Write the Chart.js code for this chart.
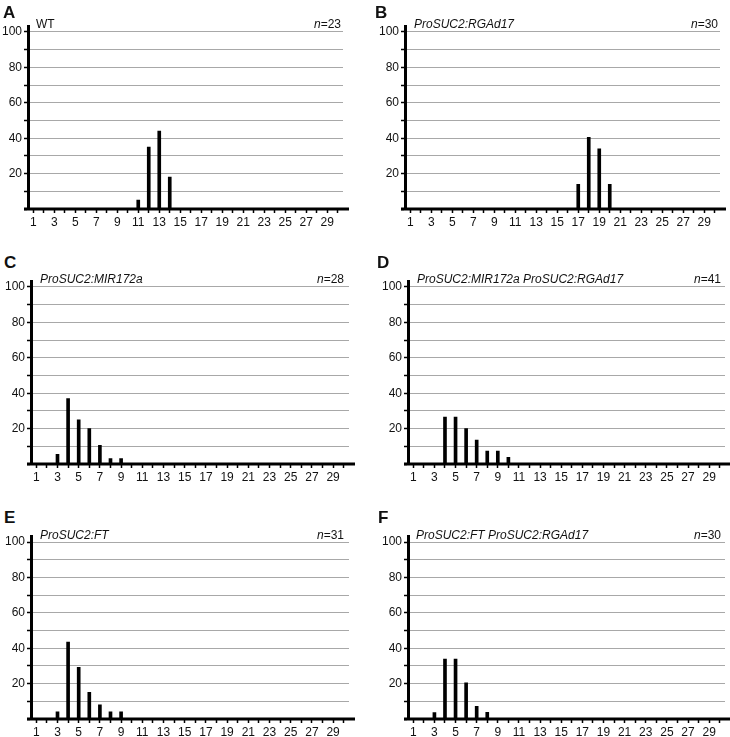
<!DOCTYPE html>
<html>
<head>
<meta charset="utf-8">
<script src="https://cdn.jsdelivr.net/npm/chart.js@4/dist/chart.umd.min.js"></script>
<style>
  html, body { margin: 0; padding: 0; background: #fff; }
  #wrap { position: relative; width: 730px; height: 737px; overflow: hidden; font-family: 'Liberation Sans', Arial, sans-serif; color: #111; }
  canvas { position: absolute; }
  .lett { position: absolute; font-weight: bold; font-size: 17px; line-height: 17px; color: #111; }
  .geno { position: absolute; font-size: 12px; line-height: 16px; white-space: nowrap; }
  .nlab { position: absolute; font-size: 12px; line-height: 16px; white-space: nowrap; text-align: right; }
</style>
</head>
<body>
<div id="wrap"></div>
<script>
// ---- data ----
const categories = [1,2,3,4,5,6,7,8,9,10,11,12,13,14,15,16,17,18,19,20,21,22,23,24,25,26,27,28,29,30];
const yTickLabels = [20, 40, 60, 80, 100];

const panelLetters = ['A', 'B', 'C', 'D', 'E', 'F'];
const genotypes = ['WT', 'ProSUC2:RGAd17', 'ProSUC2:MIR172a', 'ProSUC2:MIR172a ProSUC2:RGAd17', 'ProSUC2:FT', 'ProSUC2:FT ProSUC2:RGAd17'];
const nValues = [23, 30, 28, 41, 31, 30];

const valuesA = [0,0,0,0,0,0,0,0,0,0,5,35,44,18,0,0,0,0,0,0,0,0,0,0,0,0,0,0,0,0];
const valuesB = [0,0,0,0,0,0,0,0,0,0,0,0,0,0,0,0,14,40.5,34,14,0,0,0,0,0,0,0,0,0,0];
const valuesC = [0,0,5.5,37,25,20,10.5,3,3,0,0,0,0,0,0,0,0,0,0,0,0,0,0,0,0,0,0,0,0,0];
const valuesD = [0,0,0,26.5,26.5,20,13.5,7.3,7.3,3.8,0,0,0,0,0,0,0,0,0,0,0,0,0,0,0,0,0,0,0,0];
const valuesE = [0,0,4,43.5,29.2,15,8,4,4,0,0,0,0,0,0,0,0,0,0,0,0,0,0,0,0,0,0,0,0,0];
const valuesF = [0,0,3.6,33.8,33.8,20.5,7.2,3.7,0,0,0,0,0,0,0,0,0,0,0,0,0,0,0,0,0,0,0,0,0,0];
const seriesList = [valuesA, valuesB, valuesC, valuesD, valuesE, valuesF];

// ---- layout (pixel geometry of each panel) ----
const layout = [
  { x0: 28,  right: 343, y100: 32,  yb: 209, lx: 3,   ly: 4,   gx: 36,  gy: 24,  nr: 341 },
  { x0: 405, right: 720, y100: 32,  yb: 209, lx: 375, ly: 4,   gx: 414, gy: 24,  nr: 718 },
  { x0: 31,  right: 349, y100: 287, yb: 464, lx: 4,   ly: 254, gx: 40,  gy: 279, nr: 344 },
  { x0: 408, right: 725, y100: 287, yb: 464, lx: 377, ly: 254, gx: 417, gy: 279, nr: 721 },
  { x0: 31,  right: 349, y100: 542, yb: 719, lx: 4,   ly: 509, gx: 40,  gy: 535, nr: 344 },
  { x0: 408, right: 725, y100: 542, yb: 719, lx: 378, ly: 509, gx: 416, gy: 535, nr: 721 }
];

const FONT = "'Liberation Sans', Arial, sans-serif";
const Wy = 30, Hx = 24;
const wrap = document.getElementById('wrap');

const axisPlugin = {
  id: 'xAxisLine',
  afterDatasetsDraw(chart) {
    const { ctx, chartArea } = chart;
    const y = chart.scales.y.getPixelForValue(0);
    ctx.save();
    ctx.strokeStyle = '#000';
    ctx.lineWidth = 3;
    ctx.beginPath();
    ctx.moveTo(chartArea.left - 4, y);
    ctx.lineTo(chartArea.right + 6, y);
    ctx.stroke();
    ctx.restore();
  }
};

layout.forEach((p, k) => {
  const unit = (p.yb - p.y100) / 100;
  const yTop = p.yb - 103 * unit;
  const top = Math.floor(yTop - 9);
  const P = yTop - top;
  const left = p.x0 - Wy;
  const w = p.right - p.x0 + Wy + 10;
  const R = w - (p.right - p.x0 + Wy);
  const h = Math.round(P + (p.yb - yTop) + Hx);

  const c = document.createElement('canvas');
  c.width = w; c.height = h;
  c.style.left = left + 'px'; c.style.top = top + 'px';
  c.style.width = w + 'px'; c.style.height = h + 'px';
  wrap.appendChild(c);

  new Chart(c, {
    type: 'bar',
    data: {
      labels: categories.map(String),
      datasets: [{
        data: seriesList[k],
        backgroundColor: '#000',
        borderWidth: 0,
        barThickness: 3
      }]
    },
    options: {
      responsive: false,
      animation: false,
      devicePixelRatio: 1,
      layout: { padding: { top: P, right: R, left: 0, bottom: 0 } },
      plugins: { legend: { display: false }, tooltip: { enabled: false }, title: { display: false } },
      scales: {
        x: {
          afterFit(scale) { scale.height = Hx; },
          offset: true,
          grid: { offset: false, drawOnChartArea: false, drawTicks: true, tickLength: 4, tickColor: '#000', tickWidth: 1.5 },
          border: { display: false },
          ticks: {
            autoSkip: false, maxRotation: 0, minRotation: 0, padding: 2,
            color: '#111', font: { family: FONT, size: 12 },
            callback: (v, i) => (categories[i] % 2 === 1 ? String(categories[i]) : '')
          }
        },
        y: {
          min: 0, max: 103,
          afterFit(scale) { scale.width = Wy; },
          grid: { color: '#a8a8a8', lineWidth: 1, tickLength: 4, tickColor: '#000', tickWidth: 1.5 },
          border: { display: true, color: '#000', width: 3 },
          ticks: {
            stepSize: 10, includeBounds: false, padding: 2,
            color: '#111', font: { family: FONT, size: 12 },
            callback: (v) => (yTickLabels.includes(v) ? String(v) : '')
          }
        }
      }
    },
    plugins: [axisPlugin]
  });

  const L = document.createElement('div');
  L.className = 'lett';
  L.style.left = p.lx + 'px'; L.style.top = p.ly + 'px';
  L.textContent = panelLetters[k];
  wrap.appendChild(L);

  const G = document.createElement('div');
  G.className = 'geno';
  G.style.left = p.gx + 'px'; G.style.top = (p.gy - 8) + 'px';
  G.textContent = genotypes[k];
  if (genotypes[k] !== 'WT') G.style.fontStyle = 'italic';
  wrap.appendChild(G);

  const N = document.createElement('div');
  N.className = 'nlab';
  N.style.right = (730 - p.nr) + 'px'; N.style.top = (p.gy - 8) + 'px';
  const it = document.createElement('i');
  it.textContent = 'n';
  N.appendChild(it);
  N.appendChild(document.createTextNode('=' + nValues[k]));
  wrap.appendChild(N);
});
</script>
</body>
</html>
